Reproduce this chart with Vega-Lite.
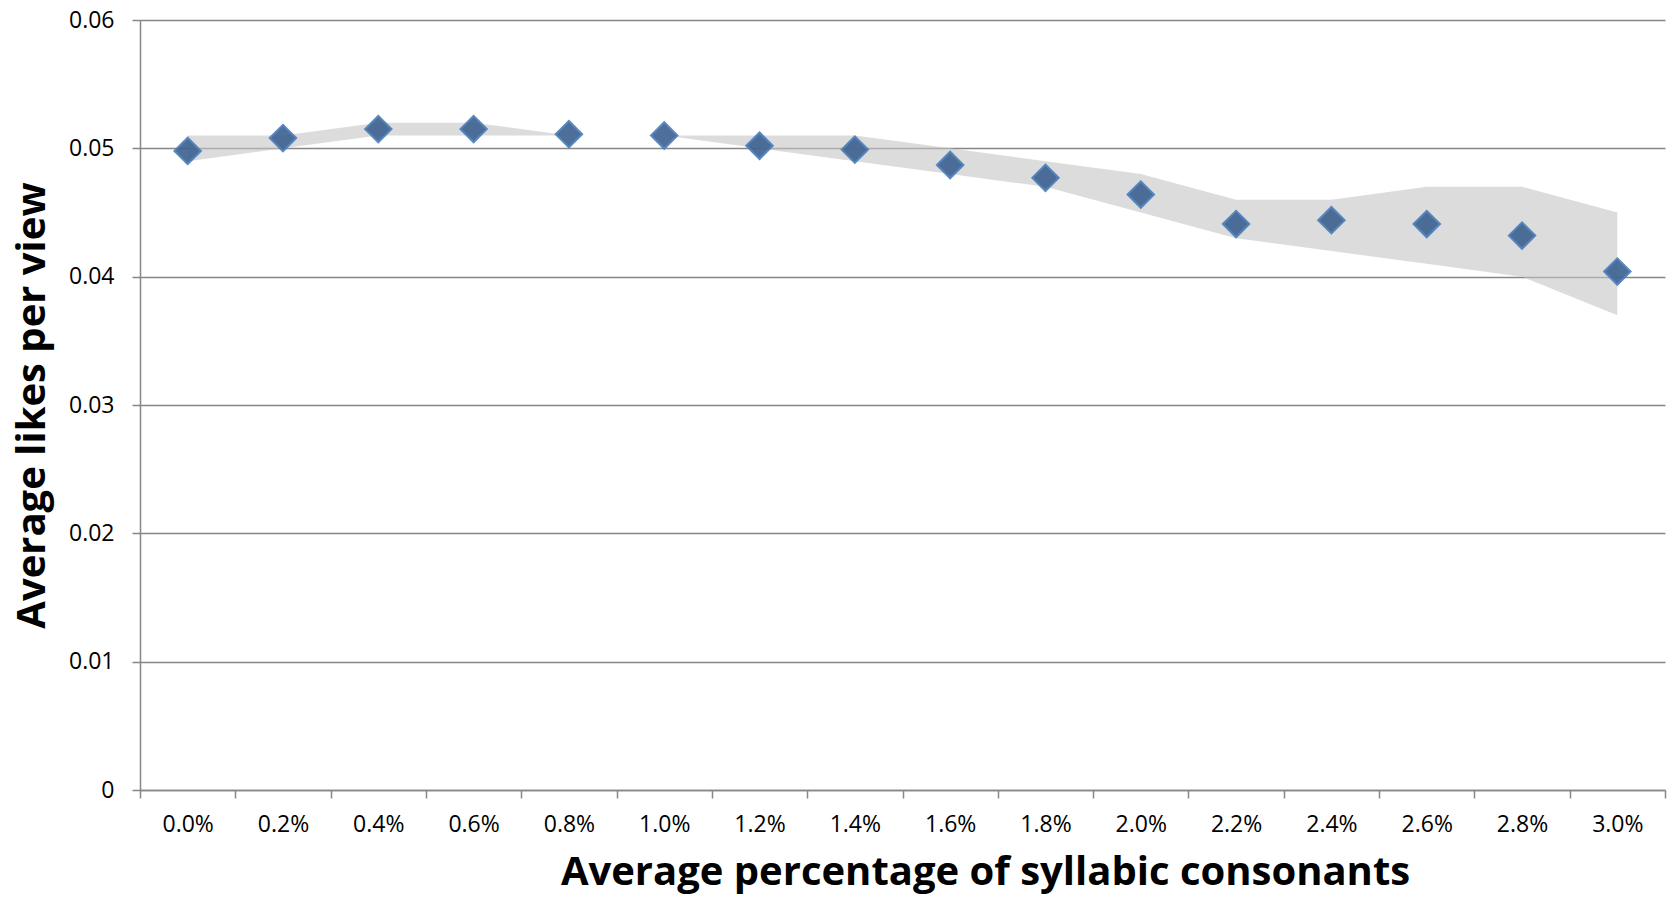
{
  "$schema": "https://vega.github.io/schema/vega-lite/v6.json",
  "autosize": {"type": "none"},
  "width": 1525,
  "height": 770,
  "padding": {"left": 140, "top": 20, "right": 10, "bottom": 107},
  "background": "white",
  "config": {
    "view": {"stroke": null},
    "font": "Open Sans",
    "axis": {
      "domainColor": "#868686",
      "domainWidth": 1.5,
      "tickColor": "#868686",
      "tickWidth": 1.5,
      "tickSize": 8,
      "gridColor": "#868686",
      "gridWidth": 1.5,
      "labelColor": "#000000",
      "labelFont": "Open Sans",
      "labelFontSize": 23,
      "titleColor": "#000000",
      "titleFont": "Open Sans",
      "titleFontWeight": "bold",
      "titleFontSize": 40
    }
  },
  "data": {
    "values": [
      {"pct": "0.0%", "mean": 0.0498, "lower": 0.049, "upper": 0.051},
      {"pct": "0.2%", "mean": 0.0508, "lower": 0.050, "upper": 0.051},
      {"pct": "0.4%", "mean": 0.0515, "lower": 0.051, "upper": 0.052},
      {"pct": "0.6%", "mean": 0.0515, "lower": 0.051, "upper": 0.052},
      {"pct": "0.8%", "mean": 0.0511, "lower": 0.051, "upper": 0.051},
      {"pct": "1.0%", "mean": 0.0510, "lower": 0.051, "upper": 0.051},
      {"pct": "1.2%", "mean": 0.0502, "lower": 0.050, "upper": 0.051},
      {"pct": "1.4%", "mean": 0.0499, "lower": 0.049, "upper": 0.051},
      {"pct": "1.6%", "mean": 0.0487, "lower": 0.048, "upper": 0.050},
      {"pct": "1.8%", "mean": 0.0477, "lower": 0.047, "upper": 0.049},
      {"pct": "2.0%", "mean": 0.0464, "lower": 0.045, "upper": 0.048},
      {"pct": "2.2%", "mean": 0.0441, "lower": 0.043, "upper": 0.046},
      {"pct": "2.4%", "mean": 0.0444, "lower": 0.042, "upper": 0.046},
      {"pct": "2.6%", "mean": 0.0441, "lower": 0.041, "upper": 0.047},
      {"pct": "2.8%", "mean": 0.0432, "lower": 0.040, "upper": 0.047},
      {"pct": "3.0%", "mean": 0.0404, "lower": 0.037, "upper": 0.045}
    ]
  },
  "encoding": {
    "x": {
      "field": "pct",
      "type": "nominal",
      "sort": null,
      "scale": {"type": "band", "paddingInner": 0, "paddingOuter": 0},
      "axis": {
        "title": "Average percentage of syllabic consonants",
        "labelAngle": 0,
        "tickBand": "extent",
        "labelPadding": 15,
        "titlePadding": 16,
        "titleX": 845,
        "titleAlign": "center",
        "grid": false
      }
    }
  },
  "layer": [
    {
      "mark": {"type": "area", "color": "#c4c4c4", "opacity": 0.6},
      "encoding": {
        "y": {
          "field": "upper",
          "type": "quantitative",
          "scale": {"domain": [0, 0.06], "nice": false},
          "axis": {
            "title": "Average likes per view",
            "values": [0, 0.01, 0.02, 0.03, 0.04, 0.05, 0.06],
            "labelExpr": "datum.value == 0 ? '0' : format(datum.value, '.2f')",
            "grid": true,
            "labelPadding": 18,
            "titlePadding": 16
          }
        },
        "y2": {"field": "lower"}
      }
    },
    {
      "mark": {"type": "point", "shape": "diamond", "filled": true, "size": 700, "fill": "#3f6391", "stroke": "#4a7ebb", "strokeWidth": 2, "opacity": 0.92},
      "encoding": {
        "y": {"field": "mean", "type": "quantitative"}
      }
    }
  ]
}
